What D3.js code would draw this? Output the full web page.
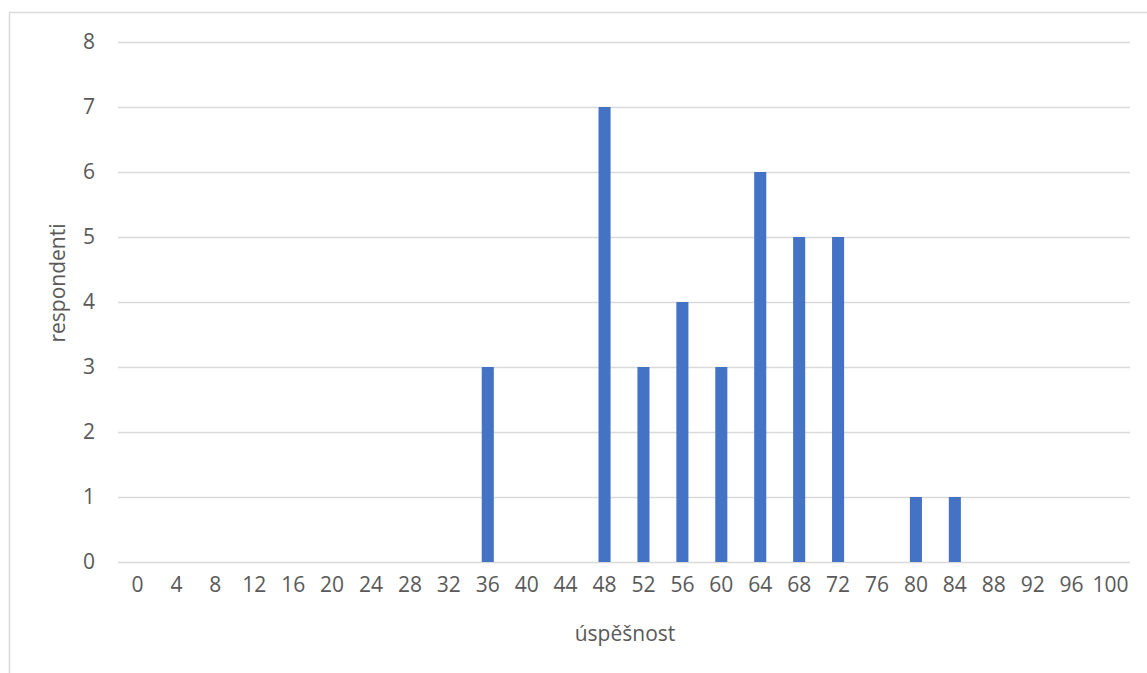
<!DOCTYPE html>
<html>
<head>
<meta charset="utf-8">
<script src="https://cdn.jsdelivr.net/npm/d3@7"></script>
<style>
  html, body { margin: 0; padding: 0; background: #fff; }
  svg { display: block; font-family: "Open Sans", "Noto Sans", sans-serif; }
</style>
</head>
<body>
<svg id="chart" width="1147" height="673"></svg>
<script>
// score buckets (úspěšnost, %) and number of respondents in each
const categories = [0, 4, 8, 12, 16, 20, 24, 28, 32, 36, 40, 44, 48, 52, 56, 60, 64, 68, 72, 76, 80, 84, 88, 92, 96, 100];
const respondents = [0, 0, 0, 0, 0, 0, 0, 0, 0, 3, 0, 0, 7, 3, 4, 3, 6, 5, 5, 0, 1, 1, 0, 0, 0, 0];
const yTicks = [0, 1, 2, 3, 4, 5, 6, 7, 8];
const xTitle = "úspěšnost";
const yTitle = "respondenti";

const svg = d3.select("#chart");
const margin = { left: 118, right: 17, top: 42, bottom: 111 };
const W = 1147, H = 673;
const textColor = "#595959";
const gridColor = "#d9d9d9";

// chart frame (left and top edges fall inside the canvas)
svg.append("rect")
  .attr("x", 9.5).attr("y", 12.5)
  .attr("width", W + 20).attr("height", H + 20)
  .attr("fill", "none").attr("stroke", gridColor).attr("stroke-width", 1.5);

const x = d3.scaleBand()
  .domain(categories)
  .range([margin.left, W - margin.right])
  .paddingInner(0.69).paddingOuter(0.345);

const y = d3.scaleLinear()
  .domain([0, 8])
  .range([H - margin.bottom, margin.top]);

// horizontal gridlines + y labels
const yAxis = d3.axisLeft(y)
  .tickValues(yTicks)
  .tickSize(-(W - margin.left - margin.right))
  .tickPadding(23)
  .tickFormat(d3.format("d"));

const gy = svg.append("g")
  .attr("transform", `translate(${margin.left},0)`)
  .call(yAxis);
gy.select(".domain").remove();
gy.selectAll(".tick line").attr("stroke", gridColor).attr("stroke-width", 1.5);
gy.selectAll(".tick text")
  .attr("fill", textColor)
  .style("font-size", "21px")
  .attr("font-family", "Open Sans, Noto Sans, sans-serif");

// x category labels
const xAxis = d3.axisBottom(x).tickSize(0).tickPadding(15);
const gx = svg.append("g")
  .attr("transform", `translate(0,${H - margin.bottom})`)
  .call(xAxis);
gx.select(".domain").remove();
gx.selectAll(".tick text")
  .attr("fill", textColor)
  .style("font-size", "21px")
  .attr("font-family", "Open Sans, Noto Sans, sans-serif");

// bars
svg.append("g")
  .selectAll("rect")
  .data(categories.map((c, i) => ({ c, v: respondents[i] })).filter(d => d.v > 0))
  .join("rect")
  .attr("x", d => x(d.c))
  .attr("width", x.bandwidth())
  .attr("y", d => y(d.v))
  .attr("height", d => y(0) - y(d.v))
  .attr("fill", "#4472c4");

// axis titles
svg.append("text")
  .attr("x", (margin.left + W - margin.right) / 2 + 1)
  .attr("y", 641)
  .attr("text-anchor", "middle")
  .attr("fill", textColor)
  .style("font-size", "21px")
  .text(xTitle);

svg.append("text")
  .attr("transform", `translate(65,${283}) rotate(-90)`)
  .attr("text-anchor", "middle")
  .attr("fill", textColor)
  .style("font-size", "21px")
  .text(yTitle);
</script>
</body>
</html>
